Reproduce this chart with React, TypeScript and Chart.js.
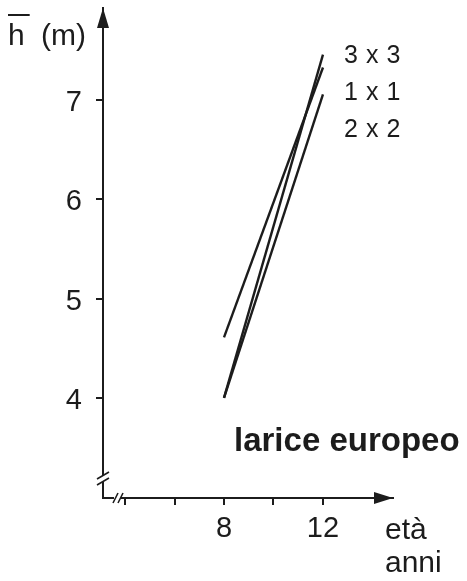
import { useEffect, useRef } from 'react';
import { Chart, registerables } from 'chart.js';

Chart.register(...registerables);

// ---- data ----
const ages = [8, 12];
const series3x3 = [4.0, 7.46];
const series1x1 = [4.61, 7.33];
const series2x2 = [4.0, 7.06];
const seriesNames = ['3x3', '1x1', '2x2'];
const yTicks = [4, 5, 6, 7];
const xTicks = [4, 6, 8, 10, 12];
const xLabeled = [8, 12];
const yTitle = ['h', '(m)'];
const xTitle = ['età', 'anni'];
const speciesLabel = 'larice europeo';

const FONT = "'Liberation Sans', Arial, sans-serif";
const INK = '#1c1c1c';

const decorPlugin = {
  id: 'decor',
  afterDraw(chart: any) {
    const { ctx, chartArea } = chart;
    const { left, right, top, bottom } = chartArea;
    ctx.save();
    ctx.fillStyle = INK;
    ctx.strokeStyle = INK;

    // arrowheads
    ctx.beginPath();
    ctx.moveTo(left, top);
    ctx.lineTo(left - 6, top + 20);
    ctx.lineTo(left + 6, top + 20);
    ctx.closePath();
    ctx.fill();
    ctx.beginPath();
    ctx.moveTo(right, bottom);
    ctx.lineTo(right - 19, bottom - 6);
    ctx.lineTo(right - 19, bottom + 6);
    ctx.closePath();
    ctx.fill();

    // axis breaks
    ctx.fillStyle = '#ffffff';
    ctx.fillRect(left - 3, bottom - 22, 6, 6);
    ctx.fillRect(left + 11, bottom - 3, 7, 6);
    ctx.fillStyle = INK;
    ctx.lineWidth = 1.6;
    ctx.beginPath();
    ctx.moveTo(left - 6, bottom - 19);
    ctx.lineTo(left + 6, bottom - 26);
    ctx.moveTo(left - 6, bottom - 13);
    ctx.lineTo(left + 6, bottom - 20);
    ctx.moveTo(left + 10, bottom + 5);
    ctx.lineTo(left + 15, bottom - 5);
    ctx.moveTo(left + 15, bottom + 5);
    ctx.lineTo(left + 20, bottom - 5);
    ctx.stroke();

    // y title: h with overline, (m)
    ctx.textBaseline = 'alphabetic';
    ctx.textAlign = 'left';
    ctx.font = `30px ${FONT}`;
    ctx.fillText(yTitle[0], 8, 45);
    const hw = ctx.measureText(yTitle[0]).width;
    ctx.fillRect(8, 14, hw + 5, 2);
    ctx.fillText(yTitle[1], 41, 45);

    // x title
    ctx.fillText(xTitle[0], 385, 539);
    ctx.fillText(xTitle[1], 385, 572);

    // series labels
    const xs = chart.scales.x;
    const lx = xs.getPixelForValue(ages[ages.length - 1]) + 21;
    ctx.font = `25px ${FONT}`;
    (ctx as any).letterSpacing = '8px';
    seriesNames.forEach((n, i) => {
      ctx.fillText(n, lx, top + 55 + i * 37);
    });
    (ctx as any).letterSpacing = '0px';

    // species label
    ctx.font = `bold 33px ${FONT}`;
    ctx.fillText(speciesLabel, 234, 451);
    ctx.restore();
  },
};

export default function App() {
  const ref = useRef<HTMLCanvasElement | null>(null);
  useEffect(() => {
    if (!ref.current) return;
    const lineDs = (data: number[]) => ({
      data: ages.map((a, i) => ({ x: a, y: data[i] })),
      borderColor: INK,
      borderWidth: 2.4,
      pointRadius: 0,
      fill: false,
      tension: 0,
    });
    const chart = new Chart(ref.current, {
      type: 'line',
      data: {
        datasets: [lineDs(series3x3), lineDs(series1x1), lineDs(series2x2)],
      },
      plugins: [decorPlugin],
      options: {
        responsive: false,
        animation: false,
        layout: { padding: { left: 0, top: 8, right: 74, bottom: 0 } },
        plugins: { legend: { display: false }, tooltip: { enabled: false } },
        scales: {
          x: {
            type: 'linear',
            min: 3.11,
            max: 14.83,
            afterFit: (s: any) => { s.height = 83; s.paddingLeft = 0; s.paddingRight = 0; },
            afterBuildTicks: (s: any) => { s.ticks = xTicks.map((v) => ({ value: v })); },
            border: { display: true, color: INK, width: 2 },
            grid: { display: true, drawOnChartArea: false, drawTicks: true, tickLength: 7, color: INK, lineWidth: 2 },
            ticks: {
              autoSkip: false,
              maxRotation: 0,
              padding: 7,
              color: INK,
              font: { family: FONT, size: 29 },
              callback: (v: any) => (xLabeled.includes(Number(v)) ? String(v) : ''),
            },
          },
          y: {
            type: 'linear',
            min: 2.99,
            max: 7.93,
            afterFit: (s: any) => { s.width = 103; s.paddingTop = 0; s.paddingBottom = 0; },
            afterBuildTicks: (s: any) => { s.ticks = yTicks.map((v) => ({ value: v })); },
            border: { display: true, color: INK, width: 2 },
            grid: { display: true, drawOnChartArea: false, drawTicks: true, tickLength: 7, color: INK, lineWidth: 2 },
            ticks: {
              autoSkip: false,
              padding: 14,
              labelOffset: 3,
              color: INK,
              font: { family: FONT, size: 29 },
              callback: (v: any) => String(v),
            },
          },
        },
      },
    });
    return () => chart.destroy();
  }, []);
  return (
    <div style={{ position: 'absolute', left: 0, top: 0, width: 467, height: 581, background: '#fff' }}>
      <canvas ref={ref} width={467} height={581} style={{ display: 'block' }} />
    </div>
  );
}
